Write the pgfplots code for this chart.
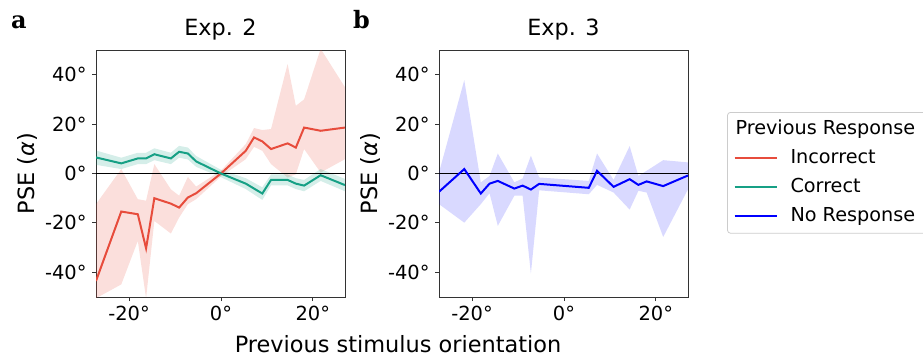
\documentclass[border=0pt]{standalone}
\usepackage{pgfplots}
\pgfplotsset{compat=1.18}
\usepackage{pgfplotstable}
\usepgfplotslibrary{fillbetween}
\usepackage{fontspec}
\setmainfont{DejaVu Sans}
\newfontfamily\serifbf{DejaVu Serif}
\definecolor{cred}{RGB}{231,76,60}
\definecolor{cgreen}{RGB}{22,160,133}
\definecolor{cblue}{RGB}{0,0,255}
\definecolor{axgray}{RGB}{51,51,51}

\pgfplotstableread{
x y lo hi
-27.2 -43.5 -50.5 -12.4
-21.7 -15.4 -44.9 1.8
-18.1 -16.5 -27.3 -10.4
-16.3 -30.3 -50.5 -11.0
-14.5 -10.0 -19.2 3.8
-10.9 -12.2 -24.3 -6.4
-9.1 -13.8 -17.8 -9.0
-7.2 -9.7 -12.4 -1.4
-5.4 -8.0 -10.4 -5.3
0 0 -1.2 1.2
5.4 9.2 5.8 11.9
7.2 14.6 10.8 18.4
9.0 13.0 9.2 17.6
10.9 9.9 3.8 18.0
14.5 12.2 -1.6 44.3
16.3 10.5 -0.3 27.4
18.1 18.6 9.9 30.0
21.7 17.3 0.4 50.5
27.0 18.6 5.8 34.9
}\incorrect

\pgfplotstableread{
x y lo hi
-27.2 6.5 3.5 9.3
-21.7 4.1 1.8 6.4
-18.1 6.1 3.8 8.4
-16.3 6.1 3.8 8.4
-14.5 7.8 5.4 10.2
-10.9 6.1 3.8 8.4
-9.1 8.8 6.4 11.2
-7.2 8.1 5.7 10.5
-5.4 4.9 2.7 7.1
0 0 -1.5 1.5
5.4 -4.1 -6.3 -1.9
9.0 -8.1 -10.7 -5.6
10.9 -2.6 -4.8 -0.4
14.5 -2.6 -4.8 -0.4
16.3 -4.1 -6.3 -1.9
18.1 -4.9 -7.2 -2.6
21.7 -0.7 -3.0 1.8
27.0 -4.7 -7.2 -2.2
}\correct

\pgfplotstableread{
x y lo hi
-27.2 -7.4 -12.4 0.4
-21.7 1.8 -19.9 37.8
-18.1 -8.1 -12.4 -3.6
-16.2 -4.1 -8.0 -1.0
-14.4 -3.0 -21.2 8.1
-10.8 -6.1 -9.0 -3.6
-9.0 -4.9 -9.0 -2.0
-7.2 -6.5 -40.5 7.2
-5.4 -4.2 -6.8 -1.6
5.4 -5.8 -8.4 -3.0
7.2 1.1 -4.6 8.1
10.8 -5.4 -7.7 -2.6
14.3 -2.3 -14.6 11.1
16.2 -4.6 -7.0 -1.0
18.0 -3.2 -7.7 1.1
21.6 -5.1 -25.7 5.4
27.0 -0.8 -6.4 4.5
}\noresp

\pgfplotsset{
  panel/.style={
    scale only axis, width=249bp, height=247bp,
    xmin=-27.2, xmax=27.0, ymin=-50, ymax=50,
    xtick={-20,0,20}, xticklabels={-20°,0°,20°},
    ytick={-40,-20,0,20,40}, yticklabels={-40°,-20°,0°,20°,40°},
    tick align=outside, major tick length=4bp,
    tick style={axgray, line width=0.9bp},
    xtick pos=bottom, ytick pos=left,
    axis line style={axgray, line width=0.9bp},
    /pgf/number format/assume math mode=true,
    tick label style={font=\fontsize{19.5}{22}\selectfont},
    xticklabel style={yshift=-2bp},
    yticklabel style={xshift=-2bp},
    ylabel={PSE (\textit{α})},
    ylabel style={at={(axis description cs:-0.277,0.5)}, anchor=center, rotate=0, font=\fontsize{22.5}{26}\selectfont},
    title style={at={(axis description cs:0.5,1)}, anchor=base, yshift=9bp, font=\fontsize{22.4}{26}\selectfont},
    clip=true,
  },
}

\begin{document}
\begin{tikzpicture}
\begin{axis}[panel, at={(96bp,-297bp)}, anchor=south west, title={Exp. 2}]
  \addplot[name path=rhi, draw=none, forget plot] table[x=x,y=hi]{\incorrect};
  \addplot[name path=rlo, draw=none, forget plot] table[x=x,y=lo]{\incorrect};
  \addplot[fill=cred, fill opacity=0.18, draw=none, forget plot] fill between[of=rhi and rlo];
  \addplot[name path=ghi, draw=none, forget plot] table[x=x,y=hi]{\correct};
  \addplot[name path=glo, draw=none, forget plot] table[x=x,y=lo]{\correct};
  \addplot[fill=cgreen, fill opacity=0.18, draw=none, forget plot] fill between[of=ghi and glo];
  \addplot[black, line width=1.3bp, forget plot] coordinates {(-30,0) (30,0)};
  \addplot[cred, line width=2bp, forget plot] table[x=x,y=y]{\incorrect};
  \addplot[cgreen, line width=2bp, forget plot] table[x=x,y=y]{\correct};
\end{axis}
\begin{axis}[panel, at={(439bp,-297bp)}, anchor=south west, title={Exp. 3},
  legend style={at={(axis description cs:1.157,0.749)}, anchor=north west,
    draw=black!20, rounded corners=3bp, line width=0.8bp,
    inner xsep=6bp, inner ysep=7.5bp,
    font=\fontsize{19.3}{22}\selectfont,
    nodes={inner sep=0pt, text height=14.2bp, text depth=4.6bp},
    row sep=10.2bp, column sep=0bp},
  legend cell align=left,
  legend image code/.code={\draw[#1] (0bp,0bp) -- (42bp,0bp);},
  ]
  \addlegendimage{empty legend}
  \addlegendentry{\hspace*{-42bp}Previous Response\hspace*{12bp}}
  \addlegendimage{cred, line width=2bp}
  \addlegendentry{\hspace*{13bp}Incorrect}
  \addlegendimage{cgreen, line width=2bp}
  \addlegendentry{\hspace*{13bp}Correct}
  \addlegendimage{cblue, line width=2bp}
  \addlegendentry{\hspace*{13bp}No Response}
  \addplot[name path=bhi, draw=none, forget plot] table[x=x,y=hi]{\noresp};
  \addplot[name path=blo, draw=none, forget plot] table[x=x,y=lo]{\noresp};
  \addplot[fill=cblue, fill opacity=0.15, draw=none, forget plot] fill between[of=bhi and blo];
  \addplot[black, line width=1.3bp, forget plot] coordinates {(-30,0) (30,0)};
  \addplot[cblue, line width=2bp, forget plot] table[x=x,y=y]{\noresp};
\end{axis}
\node[anchor=base, font=\fontsize{22.5}{26}\selectfont] at (398bp,-352bp) {Previous stimulus orientation};
\node[anchor=base west, font=\fontsize{24}{28}\selectfont\serifbf\bfseries, inner sep=0pt] at (11bp,-28bp) {a};
\node[anchor=base west, font=\fontsize{24}{28}\selectfont\serifbf\bfseries, inner sep=0pt] at (353bp,-28bp) {b};
\pgfresetboundingbox
\useasboundingbox (0bp,0bp) rectangle (923bp,-359bp);
\end{tikzpicture}
\end{document}
